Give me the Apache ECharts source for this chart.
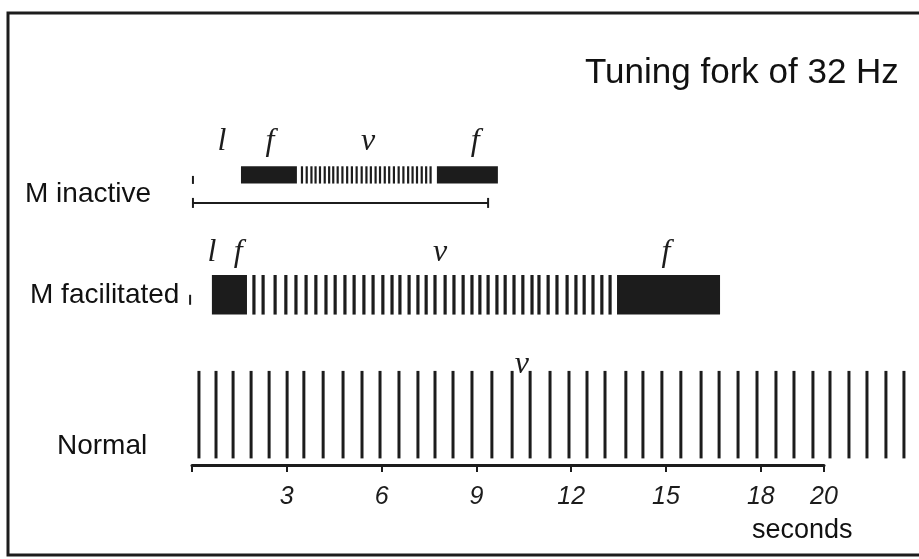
<!DOCTYPE html>
<html><head><meta charset="utf-8">
<script src="https://cdn.jsdelivr.net/npm/echarts@6/dist/echarts.min.js"></script>
<style>html,body{margin:0;padding:0;background:#fff}#c{width:919px;height:559px}</style>
</head><body><div id="c"></div>
<script>
// ---- data (times in seconds) ----
const chartTitle = 'Tuning fork of 32 Hz';
const axisName = 'seconds';
const rowNames = ['Normal', 'M facilitated', 'M inactive'];   // row index 0,1,2
const timeTickValues = [0, 3, 6, 9, 12, 15, 18, 20];
const timeTickLabels = [3, 6, 9, 12, 15, 18, 20];

const inactiveFused = [[1.55, 3.32], [7.75, 9.68]];
const inactiveVibrations = [3.48, 3.63, 3.78, 3.91, 4.05, 4.20, 4.34, 4.47, 4.61, 4.76, 4.91, 5.06, 5.21, 5.37, 5.52,
  5.66, 5.81, 5.95, 6.10, 6.24, 6.39, 6.54, 6.69, 6.84, 6.98, 7.12, 7.27, 7.41, 7.55];
const inactiveSpan = [0.03, 9.37];
const inactiveStimulus = [0.03];

const facilitatedFused = [[0.63, 1.74], [13.45, 16.71]];
const facilitatedVibrations = [1.96, 2.25, 2.63, 2.97, 3.29, 3.61, 3.92, 4.24, 4.53, 4.84, 5.13, 5.44, 5.73, 6.04,
  6.33, 6.58, 6.87, 7.15, 7.41, 7.69, 8.01, 8.29, 8.58, 8.86, 9.11, 9.37, 9.65, 9.91, 10.19, 10.47, 10.76, 10.98,
  11.27, 11.55, 11.87, 12.15, 12.41, 12.69, 12.97, 13.23];
const facilitatedStimulus = [-0.06];

const normalVibrations = [0.22, 0.76, 1.30, 1.87, 2.44, 3.01, 3.54, 4.15, 4.78, 5.38, 5.95, 6.55, 7.15, 7.69, 8.26,
  8.86, 9.49, 10.13, 10.70, 11.33, 11.93, 12.50, 13.07, 13.73, 14.27, 14.87, 15.47, 16.11, 16.68, 17.28, 17.88,
  18.48, 19.05, 19.65, 20.19, 20.79, 21.36, 21.96, 22.53];

// phase letters: [text, time, row]
const phaseLetterText = ['l', 'f', 'v', 'f', 'l', 'f', 'v', 'f', 'v'];
const phaseLetterTime = [0.95, 2.47, 5.57, 8.96, 0.63, 1.46, 7.85, 15.0, 10.44];
const phaseLetterRow = [2, 2, 2, 2, 1, 1, 1, 1, 0];

// ---- styling ----
const INK = '#1c1c1c';
const rowStyle = {
  0: { half: 0.365, lw: 3, letterDy: -50 },
  1: { half: 0.165, lw: 3.2, letterDy: -42 },
  2: { half: 0.072, lw: 2.2, letterDy: -33 }
};

function vibSeries(times, row) {
  const st = rowStyle[row];
  return {
    type: 'custom', clip: false, silent: true,
    data: times.map(t => [t, row]),
    encode: { x: 0, y: 1 },
    renderItem: (params, api) => {
      const p = api.coord([api.value(0), api.value(1)]);
      const h = api.size([0, st.half])[1];
      return { type: 'line', shape: { x1: p[0], y1: p[1] - h, x2: p[0], y2: p[1] + h },
        style: { stroke: INK, lineWidth: st.lw } };
    }
  };
}
function fusedSeries(spans, row) {
  const st = rowStyle[row];
  return {
    type: 'custom', clip: false, silent: true,
    data: spans.map(s => [s[0], s[1], row]),
    encode: { x: [0, 1], y: 2 },
    renderItem: (params, api) => {
      const a = api.coord([api.value(0), api.value(2)]);
      const b = api.coord([api.value(1), api.value(2)]);
      const h = api.size([0, st.half])[1];
      return { type: 'rect', shape: { x: a[0], y: a[1] - h, width: b[0] - a[0], height: 2 * h },
        style: { fill: INK } };
    }
  };
}
function stimulusSeries(times, row, halfPx) {
  return {
    type: 'custom', clip: false, silent: true,
    data: times.map(t => [t, row]),
    encode: { x: 0, y: 1 },
    renderItem: (params, api) => {
      const p = api.coord([api.value(0), api.value(1)]);
      return { type: 'line', shape: { x1: p[0], y1: p[1] + 5 - halfPx, x2: p[0], y2: p[1] + 5 + halfPx },
        style: { stroke: INK, lineWidth: 2 } };
    }
  };
}

const spanSeries = {
  type: 'custom', clip: false, silent: true,
  data: [[inactiveSpan[0], inactiveSpan[1], 2]],
  encode: { x: [0, 1], y: 2 },
  renderItem: (params, api) => {
    const a = api.coord([api.value(0), api.value(2)]);
    const b = api.coord([api.value(1), api.value(2)]);
    const y = a[1] + 28;
    const s = { stroke: INK, lineWidth: 2 };
    return { type: 'group', children: [
      { type: 'line', shape: { x1: a[0], y1: y, x2: b[0], y2: y }, style: s },
      { type: 'line', shape: { x1: a[0], y1: y - 5, x2: a[0], y2: y + 5 }, style: s },
      { type: 'line', shape: { x1: b[0], y1: y - 5, x2: b[0], y2: y + 5 }, style: s }
    ] };
  }
};

const letterSeries = {
  type: 'custom', clip: false, silent: true,
  data: phaseLetterText.map((txt, i) => [phaseLetterTime[i], phaseLetterRow[i], txt]),
  encode: { x: 0, y: 1 },
  renderItem: (params, api) => {
    const row = api.value(1);
    const p = api.coord([api.value(0), row]);
    return { type: 'text', x: p[0], y: p[1] + rowStyle[row].letterDy,
      style: { text: phaseLetterText[params.dataIndex], fill: INK, align: 'center', verticalAlign: 'middle',
        fontFamily: 'Liberation Serif', fontStyle: 'italic', fontSize: 32 } };
  }
};

const chart = echarts.init(document.getElementById('c'), null, { renderer: 'canvas' });
chart.setOption({
  backgroundColor: '#ffffff',
  animation: false,
  grid: { left: 192, right: 95, top: 103, bottom: 94 },
  xAxis: {
    type: 'value', min: 0, max: 20,
    axisLine: { show: true, onZero: false, lineStyle: { color: INK, width: 3 } },
    axisTick: { show: true, customValues: timeTickValues, length: 7, lineStyle: { color: INK, width: 2 } },
    axisLabel: { customValues: timeTickLabels, margin: 20, color: INK, fontSize: 25, fontStyle: 'italic',
      fontFamily: 'Liberation Sans' },
    splitLine: { show: false }
  },
  yAxis: { type: 'value', min: -0.42, max: 2.6, show: false },
  graphic: [
    { type: 'polyline', silent: true, shape: { points: [[919, 13], [8, 13], [8, 555], [919, 555]] },
      style: { stroke: INK, lineWidth: 3, fill: null } },
    { type: 'text', left: 585, top: 56, silent: true,
      style: { text: chartTitle, fill: '#111', fontFamily: 'Liberation Sans', fontSize: 35 } },
    { type: 'text', left: 752, top: 517, silent: true,
      style: { text: axisName, fill: '#111', fontFamily: 'Liberation Sans', fontSize: 27 } },
    { type: 'text', left: 25, top: 180, silent: true,
      style: { text: rowNames[2], fill: '#111', fontFamily: 'Liberation Sans', fontSize: 28 } },
    { type: 'text', left: 30, top: 281, silent: true,
      style: { text: rowNames[1], fill: '#111', fontFamily: 'Liberation Sans', fontSize: 28 } },
    { type: 'text', left: 57, top: 432, silent: true,
      style: { text: rowNames[0], fill: '#111', fontFamily: 'Liberation Sans', fontSize: 28 } }
  ],
  series: [
    vibSeries(normalVibrations, 0),
    vibSeries(facilitatedVibrations, 1),
    fusedSeries(facilitatedFused, 1),
    stimulusSeries(facilitatedStimulus, 1, 5),
    vibSeries(inactiveVibrations, 2),
    fusedSeries(inactiveFused, 2),
    stimulusSeries(inactiveStimulus, 2, 4),
    spanSeries,
    letterSeries
  ]
});
</script>
</body></html>
